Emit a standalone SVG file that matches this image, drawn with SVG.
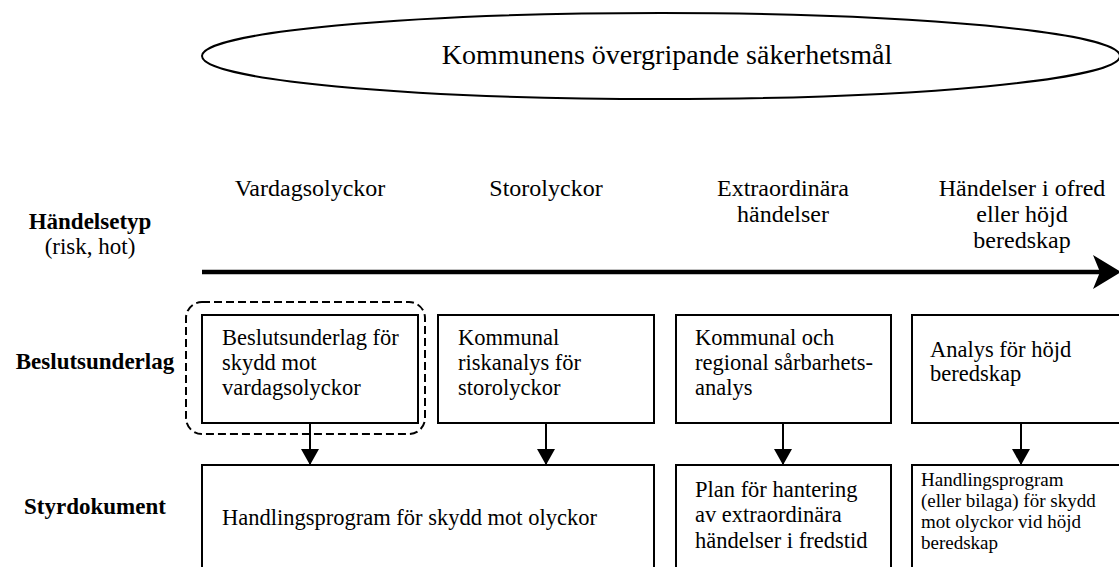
<svg xmlns="http://www.w3.org/2000/svg" width="1119" height="567" viewBox="0 0 1119 567">
  <style>
    text { font-family: "Liberation Serif", "Times New Roman", serif; fill: #000; }
    .title { font-size: 28px; text-anchor: middle; }
    .head { font-size: 24px; text-anchor: middle; }
    .label { font-size: 23px; font-weight: bold; text-anchor: middle; }
    .sub { font-size: 23px; text-anchor: middle; }
    .box { fill: #fff; stroke: #000; stroke-width: 2; }
    .bt { font-size: 22.5px; }
    .bts { font-size: 19px; }
    .conn { stroke: #000; stroke-width: 2; fill: none; }
  </style>
  <defs>
    <marker id="tri" viewBox="0 0 16 18" refX="16" refY="9" markerWidth="16" markerHeight="18" markerUnits="userSpaceOnUse" orient="auto">
      <path d="M0,0 L16,9 L0,18 Z" fill="#000"/>
    </marker>
  </defs>

  <!-- overall goal -->
  <g id="goal">
    <ellipse cx="661" cy="56" rx="459" ry="43" fill="#fff" stroke="#000" stroke-width="2"/>
    <text class="title" x="667" y="64">Kommunens övergripande säkerhetsmål</text>
  </g>

  <!-- row labels -->
  <g id="row-handelsetyp">
    <text class="label" x="90" y="229">Händelsetyp</text>
    <text class="sub" x="90" y="254">(risk, hot)</text>
  </g>
  <g id="row-beslutsunderlag">
    <text class="label" x="95" y="369">Beslutsunderlag</text>
  </g>
  <g id="row-styrdokument">
    <text class="label" x="95" y="514">Styrdokument</text>
  </g>

  <!-- event type headings -->
  <g id="head-vardag"><text class="head" x="310" y="196">Vardagsolyckor</text></g>
  <g id="head-stor"><text class="head" x="546" y="196">Storolyckor</text></g>
  <g id="head-extra">
    <text class="head" x="783" y="196">Extraordinära</text>
    <text class="head" x="783" y="222">händelser</text>
  </g>
  <g id="head-ofred">
    <text class="head" x="1022" y="196">Händelser i ofred</text>
    <text class="head" x="1022" y="222">eller höjd</text>
    <text class="head" x="1022" y="248">beredskap</text>
  </g>

  <!-- escalation axis -->
  <g id="axis">
    <line x1="202" y1="272" x2="1100" y2="272" stroke="#000" stroke-width="4.5"/>
    <path d="M1093,255 L1121,272 L1093,289 L1100,272 Z" fill="#000"/>
  </g>

  <!-- decision basis row -->
  <g id="focus">
    <rect x="186" y="302" width="239" height="132" rx="16" ry="16" fill="none" stroke="#000" stroke-width="2" stroke-dasharray="8 4"/>
  </g>
  <g id="b1">
    <rect class="box" x="202" y="315" width="216" height="108"/>
    <text class="bt" x="222" y="345">Beslutsunderlag för</text>
    <text class="bt" x="222" y="370">skydd mot</text>
    <text class="bt" x="222" y="395">vardagsolyckor</text>
  </g>
  <g id="b2">
    <rect class="box" x="438" y="315" width="216" height="108"/>
    <text class="bt" x="458" y="345">Kommunal</text>
    <text class="bt" x="458" y="370">riskanalys för</text>
    <text class="bt" x="458" y="395">storolyckor</text>
  </g>
  <g id="b3">
    <rect class="box" x="676" y="315" width="215" height="108"/>
    <text class="bt" x="695" y="345">Kommunal och</text>
    <text class="bt" x="695" y="370">regional sårbarhets-</text>
    <text class="bt" x="695" y="395">analys</text>
  </g>
  <g id="b4">
    <rect class="box" x="912" y="315" width="220" height="108"/>
    <text class="bt" x="930" y="357">Analys för höjd</text>
    <text class="bt" x="930" y="381">beredskap</text>
  </g>

  <!-- steering documents row -->
  <g id="s1">
    <rect class="box" x="202" y="465" width="452" height="110"/>
    <text class="bt" x="222" y="525">Handlingsprogram för skydd mot olyckor</text>
  </g>
  <g id="s2">
    <rect class="box" x="676" y="465" width="215" height="110"/>
    <text class="bt" x="695" y="497">Plan för hantering</text>
    <text class="bt" x="695" y="522">av extraordinära</text>
    <text class="bt" x="695" y="548">händelser i fredstid</text>
  </g>
  <g id="s3">
    <rect class="box" x="912" y="465" width="220" height="110"/>
    <text class="bts" x="921" y="486">Handlingsprogram</text>
    <text class="bts" x="921" y="507">(eller bilaga) för skydd</text>
    <text class="bts" x="921" y="528">mot olyckor vid höjd</text>
    <text class="bts" x="921" y="549">beredskap</text>
  </g>

  <!-- connectors -->
  <g id="connectors">
    <line class="conn" x1="310" y1="423" x2="310" y2="465" marker-end="url(#tri)"/>
    <line class="conn" x1="546" y1="423" x2="546" y2="465" marker-end="url(#tri)"/>
    <line class="conn" x1="783" y1="423" x2="783" y2="465" marker-end="url(#tri)"/>
    <line class="conn" x1="1021" y1="423" x2="1021" y2="465" marker-end="url(#tri)"/>
  </g>
</svg>
